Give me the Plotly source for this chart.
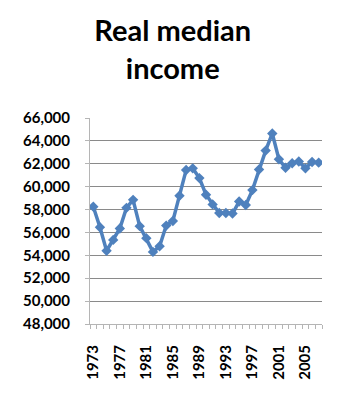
import plotly.graph_objects as go

years = list(range(1973, 2008))
income = [58250, 56450, 54400, 55350, 56350, 58150, 58850, 56550, 55500, 54300,
          54800, 56600, 57000, 59200, 61450, 61600, 60750, 59300, 58450, 57700,
          57700, 57650, 58700, 58400, 59700, 61500, 63150, 64650, 62400, 61650,
          62050, 62200, 61600, 62150, 62100]
label_years = [1973, 1977, 1981, 1985, 1989, 1993, 1997, 2001, 2005]
y_ticks = list(range(48000, 66001, 2000))

blue = "#4F81BD"
font_fam = "Lato, 'Open Sans', sans-serif"

fig = go.Figure()
fig.add_trace(go.Scatter(
    x=years, y=income, mode="lines+markers",
    line=dict(color=blue, width=3.5),
    marker=dict(symbol="diamond", size=8, color=blue),
    showlegend=False, hoverinfo="skip",
))

fig.update_layout(
    width=342, height=400,
    margin=dict(l=90, r=20, t=118, b=76),
    paper_bgcolor="white", plot_bgcolor="white",
    title=dict(text="Real median<br>income", x=0.505, xanchor="center",
               y=0.897, yanchor="top", yref="container",
               font=dict(family=font_fam, size=29, color="black", weight="bold")),
    xaxis=dict(
        range=[years[0] - 0.5, years[-1] + 0.5],
        tickmode="array", tickvals=label_years,
        ticktext=[str(y) for y in label_years],
        tickangle=-90, ticks="", showgrid=False, zeroline=False,
        showline=True, linecolor="#b5b5b5", linewidth=1,
        ticklabelstandoff=14,
        tickfont=dict(family=font_fam, size=15, color="black", weight="bold"),
        minor=dict(tickmode="array", tickvals=[y - 0.5 for y in years] + [years[-1] + 0.5],
                   ticks="outside", ticklen=4, tickcolor="#b5b5b5", tickwidth=1,
                   showgrid=False),
    ),
    yaxis=dict(
        range=[y_ticks[0], y_ticks[-1]],
        tickmode="array", tickvals=y_ticks,
        ticktext=[f"{v:,}" for v in y_ticks],
        ticks="outside", ticklen=4, tickcolor="#b5b5b5",
        showgrid=True, gridcolor="#8a8a8a", gridwidth=1,
        zeroline=False, showline=True, linecolor="#b5b5b5", linewidth=1,
        ticklabelstandoff=12,
        tickfont=dict(family=font_fam, size=15, color="black", weight="bold"),
    ),
)

fig.write_html("out.html")
